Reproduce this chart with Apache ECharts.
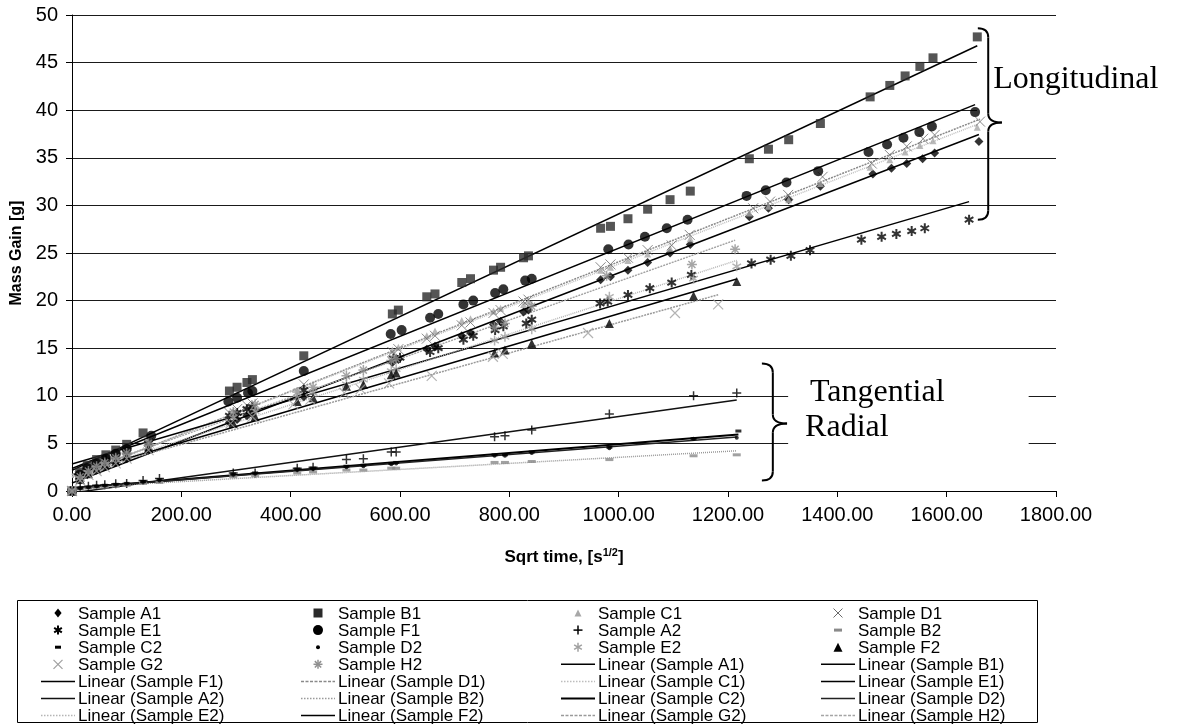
<!DOCTYPE html>
<html><head><meta charset="utf-8">
<script src="https://cdn.jsdelivr.net/npm/echarts@6/dist/echarts.min.js"></script>
<style>html,body{margin:0;padding:0;background:#fff}#c{width:1178px;height:728px}</style>
</head><body><div id="c"></div>
<script>
// ---- data: [sqrt time, mass gain] ----
const sampleA1 = [[0,0],[14,1.2],[28,1.7],[45,2.2],[62,2.6],[80,3.0],[100,3.4],[140,4.3],[288,7.2],[302,7.5],[320,7.9],[330,8.1],[424,9.9],[586,13.5],[597,13.8],[649,14.9],[664,15.2],[713,16.3],[729,16.6],[771,17.5],[784,17.8],[826,18.8],[835,19.0],[967,22.2],[985,22.5],[1017,23.2],[1053,24.0],[1094,25.0],[1131,25.9],[1239,28.8],[1274,29.7],[1311,30.6],[1369,32.0],[1465,33.3],[1499,33.9],[1527,34.4],[1556,34.9],[1578,35.5],[1659,36.7]];
const sampleB1 = [[0,0],[14,2.0],[28,2.7],[45,3.3],[62,3.8],[80,4.3],[100,4.9],[130,6.1],[288,10.5],[302,10.9],[320,11.4],[330,11.7],[424,14.2],[586,18.6],[597,19.0],[649,20.4],[664,20.7],[713,21.9],[729,22.3],[771,23.2],[784,23.5],[826,24.5],[835,24.7],[967,27.6],[985,27.8],[1017,28.6],[1053,29.6],[1094,30.6],[1131,31.5],[1239,34.9],[1274,35.9],[1311,36.9],[1369,38.6],[1460,41.4],[1496,42.6],[1524,43.6],[1551,44.6],[1575,45.5],[1656,47.7]];
const sampleC1 = [[0,0],[14,1.4],[28,2.0],[45,2.5],[62,3.0],[80,3.4],[100,3.9],[140,4.9],[288,8.0],[302,8.4],[320,8.8],[330,9.0],[424,11.0],[586,14.8],[597,15.1],[649,16.3],[664,16.8],[713,17.9],[729,18.1],[771,18.9],[784,19.2],[826,19.6],[835,19.9],[967,23.2],[985,23.5],[1017,24.2],[1053,24.9],[1094,25.5],[1131,26.5],[1239,29.2],[1274,29.9],[1311,30.6],[1369,32.3],[1460,34.0],[1496,34.8],[1524,35.6],[1551,36.3],[1575,36.8],[1656,38.2]];
const sampleD1 = [[0,0],[14,1.5],[28,2.1],[45,2.6],[62,3.1],[80,3.5],[100,4.0],[140,5.1],[288,8.2],[302,8.6],[320,9.0],[330,9.2],[424,11.2],[586,14.6],[597,14.9],[649,16.0],[664,16.3],[713,17.4],[729,17.7],[771,18.7],[784,19.0],[826,19.9],[835,20.1],[967,23.5],[985,23.8],[1017,24.5],[1053,25.3],[1097,25.8],[1130,26.9],[1246,29.7],[1277,30.4],[1310,31.1],[1373,33.0],[1463,34.4],[1496,35.3],[1527,36.2],[1557,37.0],[1578,37.4],[1661,38.8]];
const sampleE1 = [[0,0],[14,1.5],[28,2.1],[45,2.7],[62,3.2],[80,3.6],[100,4.1],[140,5.0],[288,7.9],[302,8.2],[320,8.6],[330,8.8],[424,10.6],[588,13.9],[600,14.0],[655,14.6],[670,15.0],[716,15.9],[734,16.3],[774,16.9],[789,17.3],[831,17.6],[841,18.0],[966,19.7],[980,19.9],[1017,20.6],[1057,21.3],[1097,21.9],[1133,22.7],[1243,23.9],[1278,24.3],[1315,24.7],[1350,25.3],[1444,26.4],[1481,26.7],[1508,27.0],[1536,27.3],[1560,27.6],[1641,28.5]];
const sampleF1 = [[0,0],[14,1.7],[28,2.4],[45,2.9],[62,3.4],[80,3.9],[100,4.4],[145,5.8],[286,9.4],[302,9.8],[322,10.3],[330,10.5],[424,12.6],[583,16.5],[603,16.9],[655,18.2],[670,18.6],[716,19.6],[734,20.0],[774,20.8],[789,21.2],[829,22.1],[841,22.3],[981,25.4],[1018,25.9],[1048,26.7],[1088,27.6],[1126,28.5],[1234,31.0],[1269,31.6],[1307,32.4],[1365,33.6],[1457,35.6],[1491,36.4],[1521,37.1],[1550,37.7],[1573,38.3],[1652,39.8]];
const sampleA2 = [[0,0],[15,0.4],[30,0.5],[45,0.6],[60,0.65],[80,0.75],[100,0.8],[130,1.1],[160,1.3],[295,1.9],[335,1.9],[412,2.4],[441,2.5],[502,3.3],[533,3.4],[584,4.1],[593,4.1],[773,5.7],[792,5.8],[841,6.4],[983,8.1],[1137,10.0],[1216,10.3]];
const sampleB2 = [[0,0],[15,0.2],[30,0.3],[45,0.35],[60,0.4],[80,0.5],[100,0.6],[130,0.8],[160,0.9],[295,1.5],[335,1.6],[412,1.9],[441,2.0],[502,2.2],[533,2.2],[584,2.4],[593,2.4],[773,3.0],[792,3.0],[841,3.1],[983,3.3],[1137,3.7],[1216,3.8]];
const sampleC2 = [[0,0],[15,0.3],[30,0.4],[45,0.5],[60,0.6],[80,0.7],[100,0.8],[130,1.0],[160,1.2],[295,1.8],[335,1.9],[412,2.3],[441,2.4],[502,2.6],[533,2.7],[584,2.9],[593,3.0],[773,3.8],[792,3.8],[841,4.1],[983,4.6],[1137,5.5],[1219,6.3]];
const sampleD2 = [[0,0],[15,0.3],[30,0.4],[45,0.5],[60,0.55],[80,0.65],[100,0.75],[130,0.95],[160,1.1],[295,1.7],[335,1.8],[412,2.2],[441,2.3],[502,2.5],[533,2.6],[584,2.8],[593,2.9],[773,3.7],[792,3.7],[841,4.0],[983,4.5],[1137,5.5],[1216,5.6]];
const sampleE2 = [[0,0],[15,1.3],[30,1.9],[45,2.4],[60,2.8],[80,3.3],[100,3.7],[140,4.6],[295,7.7],[335,8.4],[412,9.8],[441,10.3],[502,11.2],[533,11.7],[584,12.6],[593,12.8],[773,15.8],[792,16.2],[841,17.0],[983,20.4],[1137,22.3],[1216,23.6]];
const sampleF2 = [[0,0],[15,1.2],[30,1.8],[45,2.3],[60,2.7],[80,3.1],[100,3.6],[140,4.5],[295,7.1],[335,7.8],[412,9.4],[441,9.8],[502,11.0],[533,11.2],[584,12.2],[593,12.4],[773,14.5],[792,14.8],[841,15.5],[983,17.6],[1137,20.5],[1216,22.0]];
const sampleG2 = [[0,0],[15,1.1],[30,1.7],[45,2.1],[60,2.5],[80,2.9],[100,3.4],[140,4.3],[290,7.1],[330,7.8],[405,9.1],[436,9.6],[498,10.3],[528,10.7],[580,11.3],[658,12.1],[770,14.1],[788,14.4],[944,16.6],[1103,18.7],[1182,19.6]];
const sampleH2 = [[0,0],[15,1.5],[30,2.1],[45,2.6],[60,3.0],[80,3.5],[100,4.0],[140,5.0],[295,8.3],[335,9.1],[412,10.4],[441,10.9],[502,12.1],[533,12.7],[584,13.7],[593,13.9],[773,17.2],[792,17.6],[841,19.4],[978,22.6],[1134,23.8],[1213,25.4]];

const xTickValues = [0,200,400,600,800,1000,1200,1400,1600,1800];
const yTickValues = [0,5,10,15,20,25,30,35,40,45,50];

// ---- marker / line styles ----
const P_X = 'path://M0,0L10,10M10,0L0,10';
const P_PLUS = 'path://M5,0L5,10M0,5L10,5';
const P_AST6 = 'path://M5,0L5,10M0.7,2.5L9.3,7.5M9.3,2.5L0.7,7.5';
const P_AST8 = 'path://M5,0L5,10M0,5L10,5M1.5,1.5L8.5,8.5M8.5,1.5L1.5,8.5';
const CLEAR = 'rgba(0,0,0,0)';

const samples = [
  {name:'Sample A1', data:sampleA1, symbol:'diamond', size:9, fill:'#000'},
  {name:'Sample B1', data:sampleB1, symbol:'rect', size:9, fill:'#2a2a2a'},
  {name:'Sample C1', data:sampleC1, symbol:'triangle', size:7, fill:'#a8a8a8'},
  {name:'Sample D1', data:sampleD1, symbol:P_X, size:10, stroke:'#6a6a6a', lw:1},
  {name:'Sample E1', data:sampleE1, symbol:P_AST6, size:10, stroke:'#000', lw:2},
  {name:'Sample F1', data:sampleF1, symbol:'circle', size:10, fill:'#000'},
  {name:'Sample A2', data:sampleA2, symbol:P_PLUS, size:9, stroke:'#000', lw:1.5},
  {name:'Sample B2', data:sampleB2, symbol:'rect', size:[8,3], fill:'#8a8a8a'},
  {name:'Sample C2', data:sampleC2, symbol:'rect', size:[6,3], fill:'#000'},
  {name:'Sample D2', data:sampleD2, symbol:'circle', size:4, fill:'#000'},
  {name:'Sample E2', data:sampleE2, symbol:P_AST6, size:10, stroke:'#a0a0a0', lw:1.5},
  {name:'Sample F2', data:sampleF2, symbol:'triangle', size:9, fill:'#000'},
  {name:'Sample G2', data:sampleG2, symbol:P_X, size:10, stroke:'#a0a0a0', lw:1.2},
  {name:'Sample H2', data:sampleH2, symbol:P_AST8, size:10, stroke:'#909090', lw:1.5}
];
const fits = [
  {of:'Sample A1', color:'#000', type:'solid', w:1.5},
  {of:'Sample B1', color:'#000', type:'solid', w:1.5},
  {of:'Sample F1', color:'#000', type:'solid', w:1.5},
  {of:'Sample D1', color:'#8a8a8a', type:[2,1], w:1.5},
  {of:'Sample C1', color:'#bdbdbd', type:[1,1], w:1.5},
  {of:'Sample E1', color:'#000', type:'solid', w:1.5},
  {of:'Sample A2', color:'#111', type:'solid', w:1.5},
  {of:'Sample B2', color:'#9a9a9a', type:[1,1], w:1.5},
  {of:'Sample C2', color:'#000', type:'solid', w:2},
  {of:'Sample D2', color:'#222', type:'solid', w:1.5},
  {of:'Sample E2', color:'#b5b5b5', type:[1,1], w:1.5},
  {of:'Sample F2', color:'#000', type:'solid', w:1.5},
  {of:'Sample G2', color:'#9a9a9a', type:[2,1], w:1.5},
  {of:'Sample H2', color:'#a5a5a5', type:[2,1], w:1.5}
];
const legendOrder = [
 'Sample A1','Sample B1','Sample C1','Sample D1',
 'Sample E1','Sample F1','Sample A2','Sample B2',
 'Sample C2','Sample D2','Sample E2','Sample F2',
 'Sample G2','Sample H2','Linear (Sample A1)','Linear (Sample B1)',
 'Linear (Sample F1)','Linear (Sample D1)','Linear (Sample C1)','Linear (Sample E1)',
 'Linear (Sample A2)','Linear (Sample B2)','Linear (Sample C2)','Linear (Sample D2)',
 'Linear (Sample E2)','Linear (Sample F2)','Linear (Sample G2)','Linear (Sample H2)'];

function linFit(pts){
  let n=pts.length,sx=0,sy=0,sxx=0,sxy=0,xmax=-Infinity,xmin=Infinity;
  pts.forEach(([x,y])=>{sx+=x;sy+=y;sxx+=x*x;sxy+=x*y;xmax=Math.max(xmax,x);xmin=Math.min(xmin,x);});
  const m=(n*sxy-sx*sy)/(n*sxx-sx*sx), b=(sy-m*sx)/n;
  return [[xmin,b+m*xmin],[xmax,b+m*xmax]];
}

const series = [];
samples.forEach(s=>{
  const st = s.fill ? {color:s.fill, borderWidth:0} : {color:CLEAR, borderColor:s.stroke, borderWidth:s.lw};
  series.push({type:'scatter', name:s.name, data:s.data, symbol:s.symbol, symbolSize:s.size,
    symbolKeepAspect:true, itemStyle:st, z:3, silent:true});
});
fits.forEach(f=>{
  const src = samples.find(s=>s.name===f.of);
  series.push({type:'line', name:'Linear ('+f.of+')', data:linFit(src.data), symbol:'none',
    lineStyle:{color:f.color, type:f.type, width:f.w}, itemStyle:{color:f.color}, z:2, silent:true});
});

const FONT = 'Liberation Sans, Arial, sans-serif';
const SERIF = 'Liberation Serif, Times New Roman, serif';
const chart = echarts.init(document.getElementById('c'), null, {renderer:'canvas'});
chart.setOption({
  animation:false,
  backgroundColor:'#fff',
  grid:{left:72, right:122, top:15, bottom:237, containLabel:false},
  xAxis:{type:'value', min:xTickValues[0], max:xTickValues[xTickValues.length-1], interval:200,
    axisLine:{show:true, lineStyle:{color:'#000', width:1}},
    axisTick:{show:true, inside:false, length:6, lineStyle:{color:'#000'}},
    splitLine:{show:false},
    axisLabel:{formatter:v=>v.toFixed(2), fontFamily:FONT, fontSize:20, color:'#000', margin:14},
    name:'Sqrt time, [s{sup|1/2}]', nameLocation:'middle', nameGap:56,
    nameTextStyle:{fontFamily:FONT, fontSize:17, fontWeight:'bold', color:'#000',
      rich:{sup:{fontSize:11, fontWeight:'bold', verticalAlign:'top', padding:[0,0,9,0], fontFamily:FONT}}}
  },
  yAxis:{type:'value', min:yTickValues[0], max:yTickValues[yTickValues.length-1], interval:5,
    axisLine:{show:true, lineStyle:{color:'#000', width:1}},
    axisTick:{show:true, length:6, lineStyle:{color:'#000'}},
    splitLine:{show:true, lineStyle:{color:'#1a1a1a', width:1}},
    axisLabel:{fontFamily:FONT, fontSize:20, color:'#000', margin:14},
    name:'Mass Gain [g]', nameLocation:'middle', nameGap:46,
    nameTextStyle:{fontFamily:FONT, fontSize:16, fontWeight:'bold', color:'#000'}
  },
  series:series
});

// ---- annotations, anchored in data coordinates ----
const longBrace = {xEnd:1657, xBody:1676, xTip:1701, yTop:48.6, yBot:28.5, yTip:38.7};
const radBrace  = {xEnd:1262, xBody:1282, xTip:1308, yTop:13.4, yBot:1.1, yTip:7.1};
const notes = [
  {text:'Longitudinal', x:1685, y:43.2, size:32},
  {text:'Tangential', x:1350, y:10.35, size:32},
  {text:'Radial', x:1341, y:6.67, size:32}
];
function px(x,y){ return chart.convertToPixel({gridIndex:0},[x,y]); }
function braceEls(b){
  const xe=px(b.xEnd,0)[0], xb=px(b.xBody,0)[0], xt=px(b.xTip,0)[0];
  const yt=px(0,b.yTop)[1], yb=px(0,b.yBot)[1], ym=px(0,b.yTip)[1], r=9;
  const st={stroke:'#000', lineWidth:2, fill:null};
  const q=(x1,y1,cx,cy,x2,y2)=>({type:'bezierCurve', z:6, silent:true, shape:{x1,y1,cpx1:cx,cpy1:cy,x2,y2}, style:st});
  const l=(x1,y1,x2,y2)=>({type:'line', z:6, silent:true, shape:{x1,y1,x2,y2}, style:st});
  return [q(xe,yt,xb,yt,xb,yt+r), l(xb,yt+r,xb,ym-r), q(xb,ym-r,xb,ym,xt,ym),
          q(xt,ym,xb,ym,xb,ym+r), l(xb,ym+r,xb,yb-r), q(xb,yb-r,xb,yb,xe,yb)];
}
const g = [];
g.push({type:'rect', z:1, silent:true, shape:{x:977, y:px(0,46.5)[1], width:1178-977, height:px(0,38.3)[1]-px(0,46.5)[1]}, style:{fill:'#fff'}});
g.push({type:'rect', z:1, silent:true, shape:{x:px(1310,0)[0], y:px(0,12)[1], width:px(1750,0)[0]-px(1310,0)[0], height:px(0,3.3)[1]-px(0,12)[1]}, style:{fill:'#fff'}});
braceEls(longBrace).forEach(e=>g.push(e));
braceEls(radBrace).forEach(e=>g.push(e));
notes.forEach(n=>{
  const p=px(n.x,n.y);
  g.push({type:'text', z:6, silent:true, x:p[0], y:p[1], style:{text:n.text, fontFamily:SERIF, fontSize:n.size, fill:'#000', verticalAlign:'middle', align:'left'}});
});

// ---- legend (4 columns, row-major) ----
const LEG = {left:17, right:1037, top:600, bottom:722, col0:41, colStep:260, row0:613, rowStep:17.1, iconW:34, textGap:37, font:17};
g.push({type:'rect', z:6, silent:true, shape:{x:LEG.left+0.5, y:LEG.top+0.5, width:LEG.right-LEG.left, height:LEG.bottom-LEG.top}, style:{fill:null, stroke:'#000', lineWidth:1}});
function markerEls(s, cx, cy){
  const out=[], h=4.5;
  const ln=(x1,y1,x2,y2,c,w)=>out.push({type:'line', z:7, silent:true, shape:{x1,y1,x2,y2}, style:{stroke:c, lineWidth:w}});
  const sym=s.symbol;
  if(sym==='diamond') out.push({type:'polygon', z:7, silent:true, shape:{points:[[cx,cy-h],[cx+h*0.8,cy],[cx,cy+h],[cx-h*0.8,cy]]}, style:{fill:s.fill}});
  else if(sym==='rect'){ const w=Array.isArray(s.size)?s.size[0]:s.size, hh=Array.isArray(s.size)?s.size[1]:s.size;
    out.push({type:'rect', z:7, silent:true, shape:{x:cx-w/2, y:cy-hh/2, width:w, height:hh}, style:{fill:s.fill}}); }
  else if(sym==='triangle'){ const k=s.size/2; out.push({type:'polygon', z:7, silent:true, shape:{points:[[cx,cy-k],[cx+k,cy+k],[cx-k,cy+k]]}, style:{fill:s.fill}}); }
  else if(sym==='circle') out.push({type:'circle', z:7, silent:true, shape:{cx, cy, r:s.size/2}, style:{fill:s.fill}});
  else if(sym===P_X){ ln(cx-h,cy-h,cx+h,cy+h,s.stroke,s.lw); ln(cx+h,cy-h,cx-h,cy+h,s.stroke,s.lw); }
  else if(sym===P_PLUS){ ln(cx,cy-h,cx,cy+h,s.stroke,s.lw); ln(cx-h,cy,cx+h,cy,s.stroke,s.lw); }
  else if(sym===P_AST6){ ln(cx,cy-h,cx,cy+h,s.stroke,s.lw); ln(cx-h*0.86,cy-h/2,cx+h*0.86,cy+h/2,s.stroke,s.lw); ln(cx+h*0.86,cy-h/2,cx-h*0.86,cy+h/2,s.stroke,s.lw); }
  else if(sym===P_AST8){ ln(cx,cy-h,cx,cy+h,s.stroke,s.lw); ln(cx-h,cy,cx+h,cy,s.stroke,s.lw); ln(cx-h*0.7,cy-h*0.7,cx+h*0.7,cy+h*0.7,s.stroke,s.lw); ln(cx+h*0.7,cy-h*0.7,cx-h*0.7,cy+h*0.7,s.stroke,s.lw); }
  return out;
}
legendOrder.forEach((name,i)=>{
  const c=i%4, r=Math.floor(i/4);
  const x0=LEG.col0+c*LEG.colStep, cy=LEG.row0+r*LEG.rowStep;
  const s=samples.find(q=>q.name===name);
  if(s){ markerEls(s, x0+LEG.iconW/2, cy).forEach(e=>g.push(e)); }
  else {
    const f=fits.find(q=>'Linear ('+q.of+')'===name);
    g.push({type:'line', z:7, silent:true, shape:{x1:x0, y1:cy, x2:x0+LEG.iconW, y2:cy},
      style:{stroke:f.color, lineWidth:f.w, lineDash:Array.isArray(f.type)?f.type.map(v=>v*1.5):null}});
  }
  g.push({type:'text', z:7, silent:true, x:x0+LEG.textGap, y:cy+1,
    style:{text:name, fontFamily:FONT, fontSize:LEG.font, fill:'#000', verticalAlign:'middle', align:'left'}});
});
chart.setOption({graphic:g});
</script>
</body></html>
